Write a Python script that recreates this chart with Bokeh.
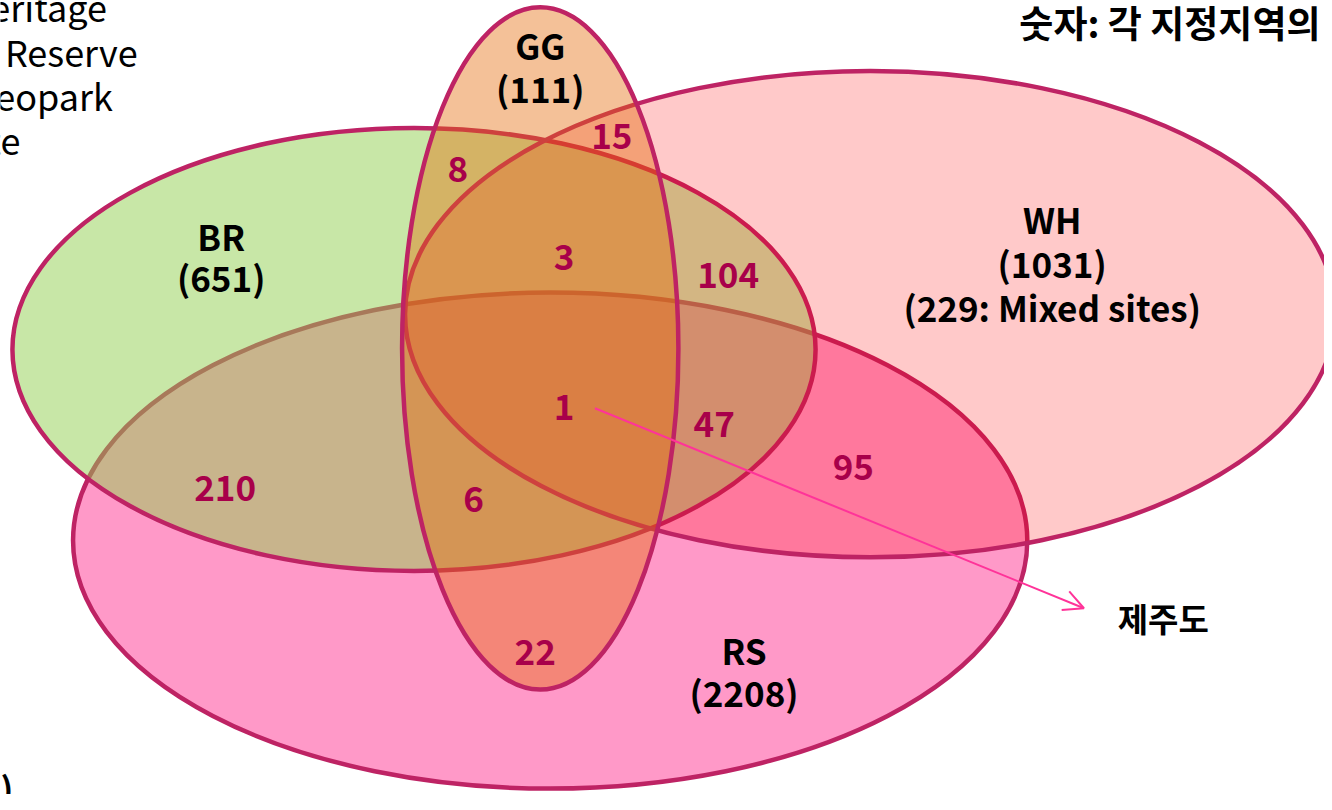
from bokeh.plotting import figure
from bokeh.models import ColumnDataSource, Range1d, Arrow, OpenHead
from bokeh.core.properties import value
from bokeh.embed import file_html
from bokeh.resources import INLINE

# ---- data ----
sets = ["RS", "BR", "WH", "GG"]                      # drawing order (bottom -> top)
set_cx = [553, 416, 875, 543]
set_cy = [551, 356, 320, 355]
set_w = [960, 808, 936, 278]
set_h = [506, 452, 496, 696]
set_fill = ["#FF99C8", "#92D050", "#FF0000", "#E46C0A"]
set_alpha = [1.0, 0.5, 0.21, 0.42]

label_lines = ["GG", "(111)", "BR", "(651)", "WH", "(1031)", "(229: Mixed sites)", "RS", "(2208)"]
label_x = [543, 543, 222, 222, 1058, 1058, 1058, 748, 748]
label_y = [45, 89, 240, 282, 222, 267, 312, 662, 705]

counts = ["15", "8", "3", "104", "1", "47", "95", "210", "6", "22"]
count_x = [615, 460, 567, 732, 567, 718, 858, 226, 476, 538]
count_y = [138, 172, 262, 280, 415, 432, 476, 497, 509, 665]

legend_lines = ["WH: World Heritage", "BR: Biosphere Reserve", "GG: Global Geopark", "RS: Ramsar Site"]
legend_end_x = [107, 138, 113, 20]
legend_base_y = [6, 52, 96, 141]

note_text = ["숫자: 각 지정지역의 수"]
note_x = [1025]
note_y = [22]

jeju_text = ["제주도"]
jeju_x = [1124]
jeju_y = [630]

arrow_start = (598, 416)
arrow_end = (1090, 620)

foot_text = ["(2015)"]
foot_x = [13]
foot_y = [803]

OUTLINE = "#BE2364"
NUM_COLOR = "#A8004A"
FONT = value("Noto Sans CJK KR")

p = figure(width=1324, height=794, output_backend="svg", toolbar_location=None,
           x_range=Range1d(0, 1332), y_range=Range1d(810, 0), min_border=0)
p.axis.visible = False
p.grid.visible = False
p.outline_line_color = None
p.background_fill_color = "white"

for i in range(len(sets)):
    src = ColumnDataSource(dict(x=[set_cx[i]], y=[set_cy[i]], w=[set_w[i]], h=[set_h[i]]))
    p.ellipse(x="x", y="y", width="w", height="h", source=src,
              fill_color=set_fill[i], fill_alpha=set_alpha[i],
              line_color=OUTLINE, line_width=4.5)

p.text(x=label_x, y=label_y, text=label_lines, text_font=FONT, text_font_style="bold",
       text_font_size="35px", text_color="black", text_align="center", text_baseline="middle")

p.text(x=count_x, y=count_y, text=counts, text_font=FONT, text_font_style="bold",
       text_font_size="35px", text_color=NUM_COLOR, text_align="center", text_baseline="middle")

p.text(x=legend_end_x, y=legend_base_y, text=legend_lines, text_font=FONT,
       text_font_size="36px", text_color="black", text_align="right", text_baseline="alphabetic")

p.text(x=note_x, y=note_y, text=note_text, text_font=FONT, text_font_style="bold",
       text_font_size="37px", text_color="black", text_align="left", text_baseline="middle")

p.text(x=jeju_x, y=jeju_y, text=jeju_text, text_font=FONT, text_font_style="bold",
       text_font_size="33px", text_color="black", text_align="left", text_baseline="middle")

p.text(x=foot_x, y=foot_y, text=foot_text, text_font=FONT, text_font_style="bold",
       text_font_size="34px", text_color="black", text_align="right", text_baseline="alphabetic")

p.add_layout(Arrow(x_start=arrow_start[0], y_start=arrow_start[1],
                   x_end=arrow_end[0], y_end=arrow_end[1],
                   line_color="#FF3399", line_width=2,
                   end=OpenHead(size=20, line_color="#FF3399", line_width=2)))

open("out.html", "w").write(file_html(p, INLINE))
